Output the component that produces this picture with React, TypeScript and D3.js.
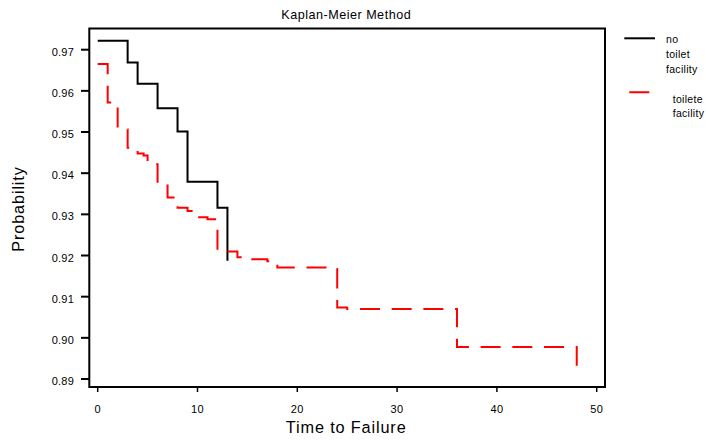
import React from "react";
import * as d3 from "d3";

// Kaplan-Meier survival estimates: event times and survival after each step
const noToiletTimes = [0, 3, 4, 6, 8, 9, 12, 13];
const noToiletSurv = [0.9722, 0.9669, 0.9617, 0.9558, 0.9501, 0.9379, 0.9316, 0.9187];

const toiletTimes = [0, 1, 2, 3, 4, 4.6, 5, 6, 7, 8, 9, 10, 11, 12, 14, 15, 17, 18, 23, 24, 25, 36, 48];
const toiletSurv = [
  0.9665, 0.9572, 0.9506, 0.9462, 0.9448, 0.9443, 0.9422, 0.937, 0.9341, 0.9316, 0.9308, 0.9293,
  0.9288, 0.921, 0.9196, 0.9191, 0.9186, 0.9171, 0.9167, 0.9074, 0.907, 0.8978, 0.8915,
];

const xTicks = [0, 10, 20, 30, 40, 50];
const yTicks = [0.89, 0.9, 0.91, 0.92, 0.93, 0.94, 0.95, 0.96, 0.97];

const FONT = "'Liberation Sans', Arial, sans-serif";

export default function App() {
  const W = 706;
  const H = 441;
  const frame = { left: 89.3, right: 605, top: 28.5, bottom: 387 };

  const x = d3.scaleLinear().domain([0, 50]).range([97.7, 596.7]);
  const y = d3.scaleLinear().domain([0.89, 0.97]).range([379, 49.7]);

  const step = d3
    .line<[number, number]>()
    .x((d) => x(d[0]))
    .y((d) => y(d[1]))
    .curve(d3.curveStepAfter);

  const noToiletPts = noToiletTimes.map((t, i) => [t, noToiletSurv[i]] as [number, number]);
  const toiletPts = toiletTimes.map((t, i) => [t, toiletSurv[i]] as [number, number]);

  const dash = "20 11.7";

  return (
    <svg
      width={W}
      height={H}
      style={{ position: "absolute", left: 0, top: 0, background: "#fff" }}
      fontFamily={FONT}
    >
      <rect x={0} y={0} width={W} height={H} fill="#fff" />

      {/* title */}
      <text x={346.2} y={19} textAnchor="middle" fontSize={12.6} letterSpacing={0.5} fill="#000">
        Kaplan-Meier Method
      </text>

      {/* survival curves */}
      <path d={step(noToiletPts) || ""} fill="none" stroke="#000" strokeWidth={2} />
      <path
        d={step(toiletPts) || ""}
        fill="none"
        stroke="#ff0000"
        strokeWidth={2}
        strokeDasharray={dash}
      />

      {/* frame */}
      <rect
        x={frame.left}
        y={frame.top}
        width={frame.right - frame.left}
        height={frame.bottom - frame.top}
        fill="none"
        stroke="#000"
        strokeWidth={2}
      />

      {/* y axis ticks */}
      {yTicks.map((v) => (
        <g key={v}>
          <line x1={81} x2={frame.left} y1={y(v)} y2={y(v)} stroke="#000" strokeWidth={2} />
          <text x={74} y={y(v) + 6} textAnchor="end" fontSize={11} fill="#000" letterSpacing={0.2}>
            {d3.format(".2f")(v)}
          </text>
        </g>
      ))}

      {/* x axis ticks */}
      {xTicks.map((t) => (
        <g key={t}>
          <line x1={x(t)} x2={x(t)} y1={frame.bottom} y2={frame.bottom + 5} stroke="#000" strokeWidth={1.5} />
          <text x={x(t)} y={412.5} textAnchor="middle" fontSize={11} fill="#000" letterSpacing={0.4}>
            {t}
          </text>
        </g>
      ))}

      {/* axis titles */}
      <text x={346.2} y={432.7} textAnchor="middle" fontSize={16.3} letterSpacing={0.85} fill="#000">
        Time to Failure
      </text>
      <text
        transform="translate(24,209) rotate(-90)"
        textAnchor="middle"
        fontSize={16.3}
        letterSpacing={0.85}
        fill="#000"
      >
        Probability
      </text>

      {/* legend */}
      <line x1={624.3} x2={655} y1={38.3} y2={38.3} stroke="#000" strokeWidth={2} />
      <text fontSize={10.5} fill="#000" letterSpacing={0.3}>
        <tspan x={666} y={42.7}>no</tspan>
        <tspan x={666} y={57.5}>toilet</tspan>
        <tspan x={666} y={72.5}>facility</tspan>
      </text>
      <line
        x1={629.3}
        x2={661}
        y1={92.3}
        y2={92.3}
        stroke="#ff0000"
        strokeWidth={2}
        strokeDasharray={dash}
      />
      <text fontSize={10.5} fill="#000" letterSpacing={0.3}>
        <tspan x={672.7} y={103.3}>toilete</tspan>
        <tspan x={672.7} y={117}>facility</tspan>
      </text>
    </svg>
  );
}
